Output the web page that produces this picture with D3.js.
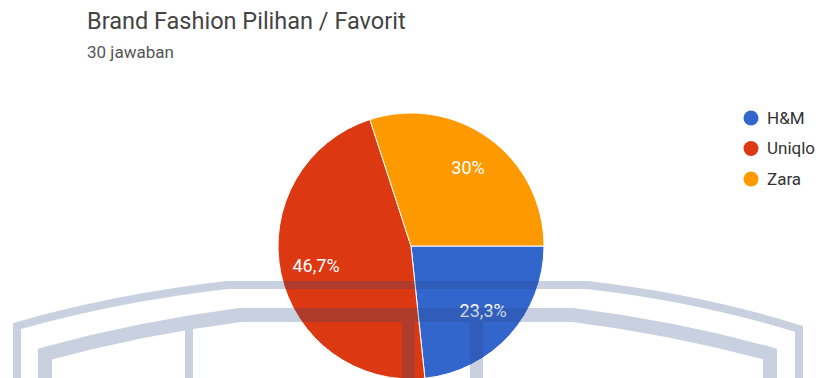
<!DOCTYPE html>
<html>
<head>
<meta charset="utf-8">
<script src="https://cdn.jsdelivr.net/npm/d3@7"></script>
<style>
  html, body { margin: 0; padding: 0; background: #fff; }
  svg { display: block; font-family: Roboto, Arial, sans-serif; }
</style>
</head>
<body>
<svg id="chart" width="820" height="378"></svg>
<script>
const brands = ["H&M", "Uniqlo", "Zara"];
const counts = [7, 14, 9];
const labels = ["23,3%", "46,7%", "30%"];
const colors = ["#3366cc", "#dc3912", "#ff9900"];

const title = "Brand Fashion Pilihan / Favorit";
const subtitle = "30 jawaban";

const svg = d3.select("#chart");
const width = 820, height = 378;

// judul
svg.append("text")
  .attr("x", 87).attr("y", 29)
  .attr("fill", "#444")
  .style("font-size", "23.5px")
  .text(title);

svg.append("text")
  .attr("x", 87).attr("y", 58)
  .attr("fill", "#555")
  .style("font-size", "17px")
  .text(subtitle);

// pie
const cx = 411, cy = 246, r = 133;
const color = d3.scaleOrdinal().domain(brands).range(colors);

const pie = d3.pie()
  .value(d => d.value)
  .sort(null)
  .startAngle(Math.PI / 2)
  .endAngle(Math.PI / 2 + 2 * Math.PI);

const data = brands.map((b, i) => ({ name: b, value: counts[i], label: labels[i] }));
const arcs = pie(data);

const arc = d3.arc().innerRadius(0).outerRadius(r);
const labelArc = d3.arc().innerRadius(r * 0.73).outerRadius(r * 0.73);

const g = svg.append("g").attr("transform", `translate(${cx},${cy})`);

g.selectAll("path")
  .data(arcs)
  .join("path")
  .attr("d", arc)
  .attr("fill", d => color(d.data.name))
  .attr("stroke", "#fff")
  .attr("stroke-width", 1);

g.selectAll("text")
  .data(arcs)
  .join("text")
  .attr("transform", d => `translate(${labelArc.centroid(d)})`)
  .attr("text-anchor", "middle")
  .attr("dy", "0.35em")
  .attr("fill", "#fff")
  .style("font-size", "18px")
  .text(d => d.data.label);

// legenda
const legend = svg.append("g").attr("transform", "translate(751,118)");
const item = legend.selectAll("g")
  .data(brands)
  .join("g")
  .attr("transform", (d, i) => `translate(0,${i * 30.5})`);

item.append("circle")
  .attr("r", 7.5)
  .attr("fill", d => color(d));

item.append("text")
  .attr("x", 16)
  .attr("dy", "0.35em")
  .attr("fill", "#333")
  .style("font-size", "17px")
  .text(d => d);

// watermark (logo) di bagian bawah
const wm = svg.append("g")
  .attr("opacity", 0.24)
  .attr("fill", "none")
  .attr("stroke", "#23437f")
  .attr("stroke-linejoin", "miter");

wm.append("path")
  .attr("stroke-width", 8)
  .attr("d", "M17,378 L17,326 Q115,298 227,285 L587,285 Q700,298 799,329 L799,378");

wm.append("path")
  .attr("stroke-width", 14)
  .attr("d", "M45,378 L45,354 Q140,328 240,315 L573,315 Q675,328 770,354 L770,378");

wm.append("path")
  .attr("stroke-width", 8)
  .attr("d", "M189,378 L189,322");

wm.append("path")
  .attr("stroke-width", 13)
  .attr("d", "M408.5,378 L408.5,321");

wm.append("path")
  .attr("stroke-width", 13)
  .attr("d", "M476.5,378 L476.5,321");
</script>
</body>
</html>
